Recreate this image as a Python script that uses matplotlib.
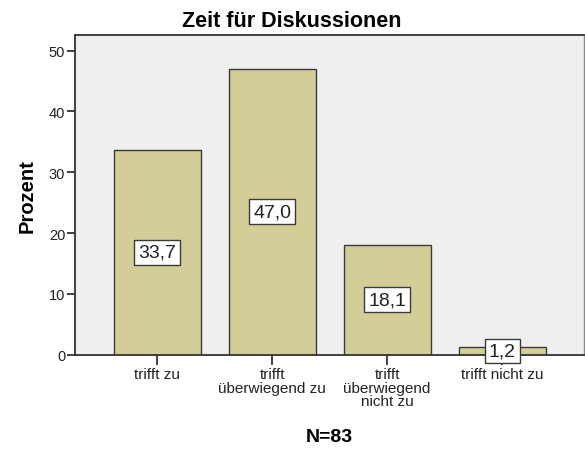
import matplotlib
matplotlib.use("Agg")
import matplotlib.pyplot as plt

categories = ["trifft zu", "trifft\nüberwiegend zu", "trifft\nüberwiegend\nnicht zu", "trifft nicht zu"]
values = [33.7, 47.0, 18.1, 1.2]
yticks = [0, 10, 20, 30, 40, 50]
title = "Zeit für Diskussionen"
ylabel = "Prozent"
xlabel = "N=83"

plt.rcParams['font.family'] = ['Liberation Sans', 'DejaVu Sans']

fig = plt.figure(figsize=(5.85, 4.52), dpi=100)
ax = fig.add_axes([0.128, 0.213, 0.870, 0.708])
ax.set_facecolor('#EFEFEF')

x = list(range(len(values)))
ax.bar(x, values, width=0.757, color='#D3CE97', edgecolor='#3A3A3A', linewidth=1.0, zorder=2)
for xi, v in zip(x, values):
    ax.text(xi, v / 2, f"{v:.1f}".replace('.', ','), ha='center', va='center', fontsize=14,
            color='#222222',
            bbox=dict(boxstyle='square,pad=0.2', facecolor='white', edgecolor='#3A3A3A', linewidth=1.0),
            zorder=3)

ax.set_xlim(-0.715, 3.71)
ax.set_ylim(0, 52.6)
ax.set_yticks(yticks)
ax.set_xticks(x)
ax.set_xticklabels(categories, fontsize=11, linespacing=0.95, color='#222222')
ax.tick_params(axis='y', labelsize=10.5, length=6, width=1.3, color='#333333', pad=1, labelcolor='#222222')
ax.tick_params(axis='x', length=7, width=1.3, color='#333333', pad=2)
for s in ['left', 'bottom', 'top']:
    ax.spines[s].set_color('#333333')
    ax.spines[s].set_linewidth(1.3)
ax.spines['right'].set_color('#888888')
ax.spines['right'].set_linewidth(1.0)

ax.set_title(title, fontsize=15.5, fontweight='bold', pad=6, x=0.427)
ax.set_ylabel(ylabel, fontsize=14.5, fontweight='bold', labelpad=9)
ax.set_xlabel(xlabel, fontsize=14, fontweight='bold', labelpad=14)

fig.savefig('out.png', dpi=100)
